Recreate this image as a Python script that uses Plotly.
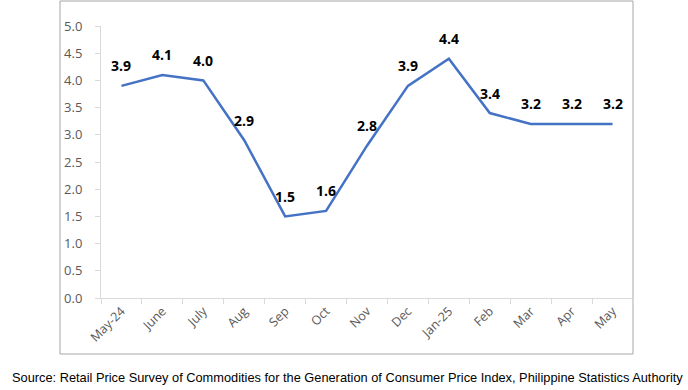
import plotly.graph_objects as go

months = ["May-24", "June", "July", "Aug", "Sep", "Oct", "Nov", "Dec", "Jan-25", "Feb", "Mar", "Apr", "May"]
values = [3.9, 4.1, 4.0, 2.9, 1.5, 1.6, 2.8, 3.9, 4.4, 3.4, 3.2, 3.2, 3.2]
y_ticks = [0.0, 0.5, 1.0, 1.5, 2.0, 2.5, 3.0, 3.5, 4.0, 4.5, 5.0]
source = "Source: Retail Price Survey of Commodities for the Generation of Consumer Price Index, Philippine Statistics Authority"

W, H = 688, 390
L, R, T, B = 101, 55, 26, 92
pw = W - L - R
ph = H - T - B

fig = go.Figure()
fig.add_trace(go.Scatter(
    x=months, y=values, mode="lines",
    line=dict(color="#4472C4", width=2.5),
    hoverinfo="skip",
))

for m, v in zip(months, values):
    fig.add_annotation(x=m, y=v, text=f"<b>{v:.1f}</b>", showarrow=False,
                       yshift=20, yanchor="middle",
                       font=dict(family="Open Sans, Liberation Sans, sans-serif", size=14, color="#000000"))

def px_x(x):
    return (x - L) / pw

def px_y(y):
    return (H - B - y) / ph

fig.add_shape(type="rect", xref="paper", yref="paper",
              x0=px_x(60), x1=px_x(633), y0=px_y(354), y1=px_y(1),
              line=dict(color="#A6A6A6", width=1), fillcolor="rgba(0,0,0,0)", layer="below")

fig.add_annotation(text=source, xref="paper", yref="paper",
                   x=px_x(10), y=px_y(377), xanchor="left", yanchor="middle",
                   showarrow=False,
                   font=dict(family="Liberation Sans, Arial, sans-serif", size=12.8, color="#000000"))

fig.update_layout(
    width=W, height=H,
    margin=dict(l=L, r=R, t=T, b=B),
    paper_bgcolor="white", plot_bgcolor="white",
    showlegend=False,
    xaxis=dict(
        type="category",
        showgrid=False,
        showline=True, linecolor="#D9D9D9", linewidth=1,
        ticks="outside", ticklen=5, tickcolor="#D9D9D9",
        tickson="boundaries",
        tickangle=-45,
        tickfont=dict(family="Open Sans, sans-serif", size=12.5, color="#595959"),
        range=[-0.5, 12.5],
    ),
    yaxis=dict(
        range=[0, 5],
        tickvals=y_ticks,
        ticktext=[f"{v:.1f}" for v in y_ticks],
        showgrid=False,
        zeroline=False,
        showline=True, linecolor="#D9D9D9", linewidth=1,
        ticks="outside", ticklen=5, tickcolor="#D9D9D9",
        ticklabelstandoff=10,
        tickfont=dict(family="Open Sans, sans-serif", size=13, color="#595959"),
    ),
)

fig.write_html("out.html", config={"displayModeBar": False},
               post_script="document.body.style.margin='0';document.body.style.padding='0';")
